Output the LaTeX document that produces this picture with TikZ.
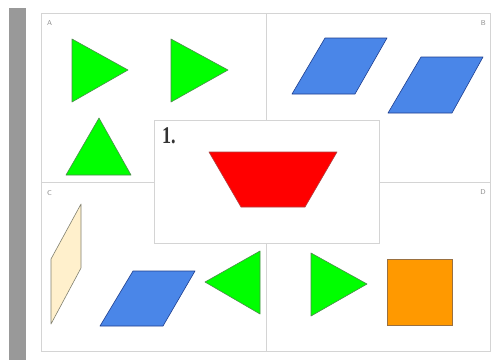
\documentclass[tikz,border=0pt]{standalone}
\usepackage{tikz}
\usepackage{fontspec}
\newfontfamily\cardfont{Liberation Serif}
\usetikzlibrary{positioning}
\definecolor{BarGrey}{HTML}{999999}
\definecolor{FrameGrey}{HTML}{D4D4D4}
\definecolor{LabelGrey}{HTML}{8A8A8A}
\definecolor{NumGrey}{HTML}{333333}
\definecolor{ShapeGreen}{HTML}{00FF00}
\definecolor{GreenEdge}{HTML}{4C8C4C}
\definecolor{ShapeBlue}{HTML}{4A86E8}
\definecolor{BlueEdge}{HTML}{1F3F8F}
\definecolor{ShapeRed}{HTML}{FF0000}
\definecolor{RedEdge}{HTML}{B04040}
\definecolor{ShapeOrange}{HTML}{FF9900}
\definecolor{OrangeEdge}{HTML}{9A7040}
\definecolor{ShapeCream}{HTML}{FFF0CC}
\definecolor{CreamEdge}{HTML}{808070}

\begin{document}
\begin{tikzpicture}[
    x=1pt, y=-1pt,
    frame/.style={draw=FrameGrey, line width=0.9pt},
    corner/.style={font=\sffamily\fontsize{7}{7}\selectfont, text=LabelGrey, inner sep=0pt},
    greenpiece/.style={fill=ShapeGreen, draw=GreenEdge, line width=0.6pt, line join=round},
    bluepiece/.style={fill=ShapeBlue, draw=BlueEdge, line width=0.6pt, line join=round},
    redpiece/.style={fill=ShapeRed, draw=RedEdge, line width=0.6pt, line join=round},
    orangepiece/.style={fill=ShapeOrange, draw=OrangeEdge, line width=0.6pt},
    creampiece/.style={fill=ShapeCream, draw=CreamEdge, line width=0.6pt, line join=round}
]
    \useasboundingbox (0,0) rectangle (497,360);
    \fill[white] (0,0) rectangle (497,360);

    % side bar and outer frame
    \fill[BarGrey] (9,8) rectangle (26,360);
    \draw[frame] (41,13) rectangle (490,351);
    \draw[frame] (266,13) -- (266,351);
    \draw[frame] (41,182) -- (490,182);

    % corner letters
    \node[corner, anchor=north west] (labA) at (47,20) {A};
    \node[corner, anchor=north east] (labB) at (486,20) {B};
    \node[corner, anchor=north west] (labC) at (47,190) {C};
    \node[corner, anchor=north east] (labD) at (486,189) {D};

    % panel A
    \draw[greenpiece] (72,39) -- (128,70) -- (72,102) -- cycle;
    \draw[greenpiece] (171,39) -- (228,70) -- (171,102) -- cycle;
    \draw[greenpiece] (99,118) -- (131,175) -- (66,175) -- cycle;

    % panel B
    \draw[bluepiece] (325,38) -- (387,38) -- (355,94) -- (292,94) -- cycle;
    \draw[bluepiece] (421,57) -- (483,57) -- (452,113) -- (388,113) -- cycle;

    % panel C
    \draw[creampiece] (81,204) -- (81,268) -- (51,324) -- (51,259) -- cycle;
    \draw[bluepiece] (133,271) -- (195,271) -- (163,326) -- (100,326) -- cycle;
    \draw[greenpiece] (205,282) -- (260,251) -- (260,314) -- cycle;

    % panel D
    \draw[greenpiece] (311,253) -- (367,284) -- (311,316) -- cycle;
    \draw[orangepiece] (387,259) rectangle (452,325);

    % middle card
    \draw[frame, fill=white] (154,120) rectangle (379,243);
    \node[anchor=north west, inner sep=0pt, text=NumGrey,
          font=\cardfont\bfseries\fontsize{24}{24}\selectfont] (num) at (162,127) {\scalebox{0.75}[1]{1.}};
    \draw[redpiece] (209,152) -- (337,152) -- (305,207) -- (241,207) -- cycle;
\end{tikzpicture}
\end{document}
